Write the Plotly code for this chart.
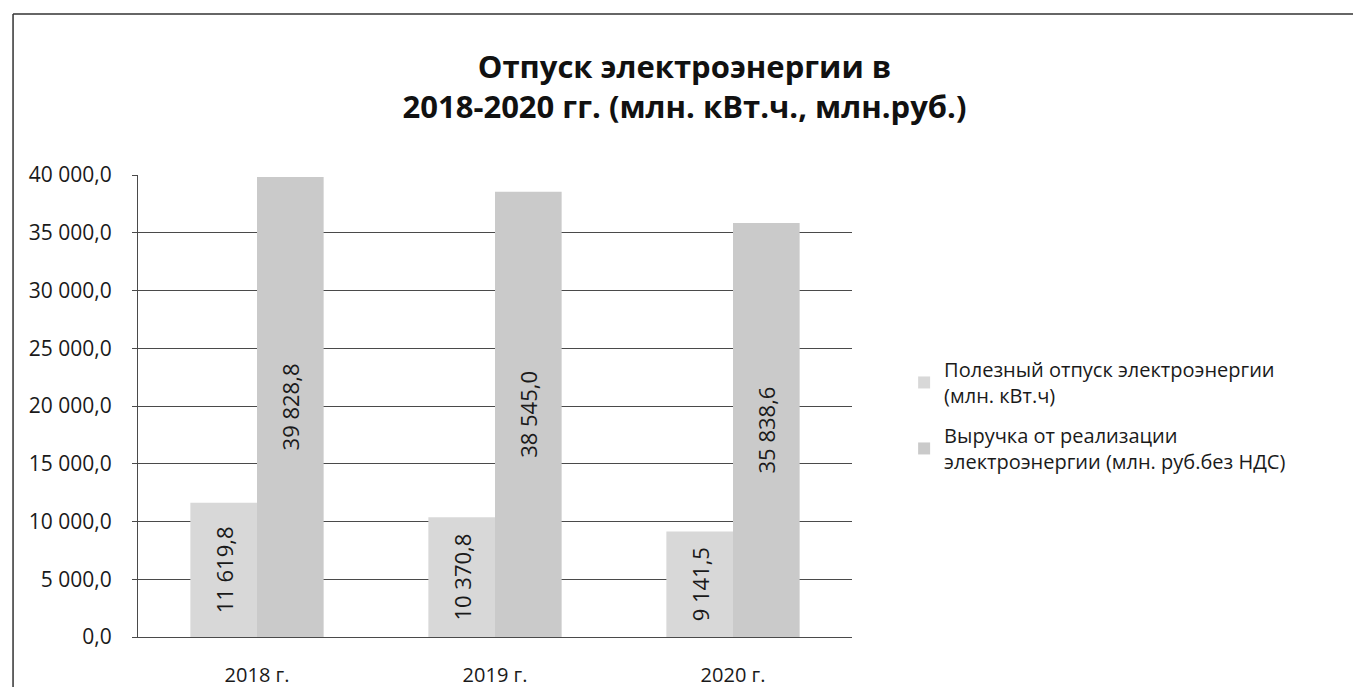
import plotly.graph_objects as go

YEARS = ["2018 г.", "2019 г.", "2020 г."]
SUPPLY = [11619.8, 10370.8, 9141.5]
REVENUE = [39828.8, 38545.0, 35838.6]
NAMES = [
    "Полезный отпуск электроэнергии<br>(млн. кВт.ч)",
    "Выручка от реализации<br>электроэнергии (млн. руб.без НДС)",
]
TITLE = "Отпуск электроэнергии в<br>2018-2020 гг. (млн. кВт.ч., млн.руб.)"

INK = "#1a1a1a"
GRID = "#4a4a4a"
FONT = "Open Sans, Liberation Sans, sans-serif"


def fmt(v):
    s = f"{v:,.1f}"
    return s.replace(",", " ").replace(".", ",")


fig = go.Figure()
for i, (vals, name, color) in enumerate(
    ((SUPPLY, NAMES[0], "#d8d8d8"), (REVENUE, NAMES[1], "#cacaca"))
):
    fig.add_trace(
        go.Bar(
            x=YEARS,
            y=vals,
            name=name,
            legendgroup=f"g{i}",
            marker=dict(color=color, line=dict(width=0)),
            text=[fmt(v) for v in vals],
            textposition="inside",
            insidetextanchor="middle",
            textangle=-90,
            textfont=dict(size=22, color=INK, family=FONT),
        )
    )

# chart frame: only the top and left edges fall inside the window
frame = dict(xref="paper", yref="paper", line=dict(color="#333", width=1.5), layer="below")
shapes = [
    dict(type="line", x0=-0.175, x1=1.9, y0=1.3485, y1=1.3485, **frame),
    dict(type="line", x0=-0.175, x1=-0.175, y0=-0.3, y1=1.3485, **frame),
]

# the page body adds an 8px offset, so the figure is 8px smaller to fit the window
fig.update_layout(
    width=1353,
    height=679,
    barmode="group",
    bargap=0.44,
    bargroupgap=0,
    separators=", ",
    paper_bgcolor="white",
    plot_bgcolor="white",
    font=dict(family=FONT, color=INK, size=20),
    margin=dict(l=130, r=509, t=167, b=50),
    title=dict(
        text=TITLE,
        x=0.5,
        xref="container",
        xanchor="center",
        y=0.897,
        yref="container",
        yanchor="top",
        font=dict(size=31, color="#111", family=FONT, weight="bold"),
    ),
    legend=dict(
        x=1.073,
        y=0.6213,
        xanchor="left",
        yanchor="top",
        font=dict(size=20, color=INK),
        tracegroupgap=11,
        itemwidth=30,
    ),
    shapes=shapes,
)
fig.update_yaxes(
    range=[0, 40000],
    dtick=5000,
    tickformat=",.1f",
    gridcolor=GRID,
    gridwidth=1,
    showline=True,
    linecolor=GRID,
    linewidth=1,
    ticks="outside",
    ticklen=5,
    tickcolor=GRID,
    ticklabelstandoff=16,
    tickfont=dict(size=21, color=INK),
    zeroline=False,
    automargin=False,
)
fig.update_xaxes(
    showline=True,
    linecolor=GRID,
    linewidth=1,
    ticks="",
    ticklabelstandoff=20,
    tickfont=dict(size=20, color=INK),
    automargin=False,
)

fig.write_html("out.html", post_script="document.body.style.overflow='hidden';")
